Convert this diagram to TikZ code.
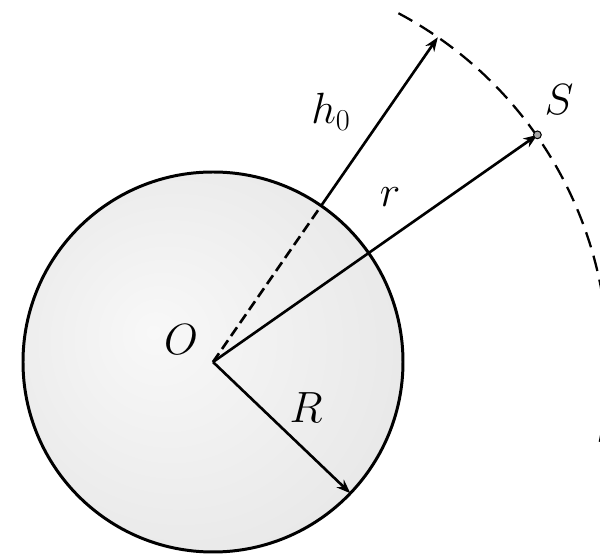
\documentclass[tikz,border=0pt]{standalone}
\usepackage{tikz}
\usetikzlibrary{arrows.meta,positioning,calc}
\definecolor{SphereEdge}{RGB}{212,212,212}
\definecolor{SphereCore}{RGB}{248,248,248}
\pgfdeclareradialshading{sphereshade}{\pgfpoint{-8bp}{4bp}}{color(0bp)=(SphereCore); color(30bp)=(white!91!black); color(50bp)=(SphereEdge)}

\begin{document}
\begin{tikzpicture}[
    every node/.style={font=\fontsize{23}{28}\selectfont, inner sep=1pt},
    vec/.style={line width=1.5pt, -{Stealth[length=8pt,width=6pt]}},
    inner/.style={line width=1.5pt, dash pattern=on 6pt off 3pt}
]
\useasboundingbox (-4.26,-3.96) rectangle (7.74,7.24);
\clip (-4.26,-3.96) rectangle (7.74,7.24);
% sphere
\coordinate (O) at (0,0);
\fill[shading=sphereshade] (O) circle (3.8);
\draw[line width=1.7pt] (O) circle (3.8);
% orbit
\draw[line width=1.3pt, dash pattern=on 9pt off 5pt] (62:7.9) arc (62:-12.5:7.9);
\coordinate (Hs) at (55.3:3.8);
\coordinate (H) at (55.3:7.9);
\coordinate (S) at (35:7.92);
\coordinate (Rb) at (-43.7:3.8);
% vectors
\draw[inner] (O) -- (Hs);
\draw[vec] (Hs) -- (H);
\draw[vec] (O) -- (S);
\draw[vec] (O) -- (Rb);
\fill[gray!70, draw=black, line width=0.6pt] (S) circle (2.2pt);
% labels
\node (lO) at (-0.64,0.44) {$O$};
\node (lR) at (1.86,-0.92) {$R$};
\node (lr) at (3.54,3.3) {$r$};
\node (lh) at (2.36,5.0) {$h_0$};
\node (lS) at (6.92,5.24) {$S$};
\end{tikzpicture}
\end{document}
